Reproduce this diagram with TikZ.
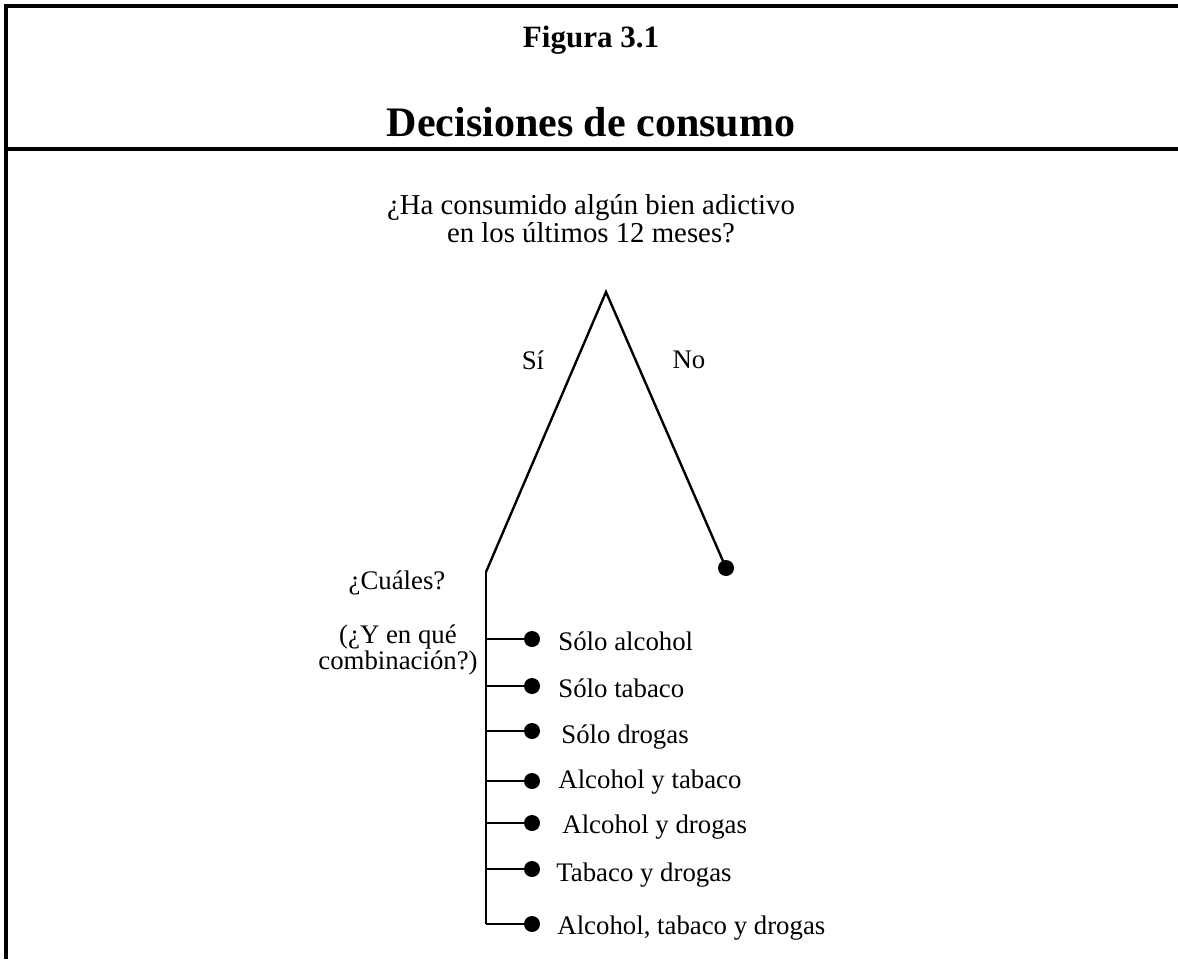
\documentclass[tikz,border=0pt]{standalone}
\usepackage{fontspec}
\setmainfont{Liberation Serif}
\usetikzlibrary{positioning}

\tikzset{
  frameline/.style={line width=2pt},
  treeline/.style={line width=1.2pt},
  leafdot/.style={circle,fill=black,inner sep=0pt,minimum size=8pt},
  leaftext/.style={anchor=west,inner sep=0pt,font=\fontsize{13.4}{16}\selectfont},
  plaintext/.style={align=center,inner sep=0pt,font=\fontsize{13.4}{12.6}\selectfont},
  asktext/.style={align=center,inner sep=0pt,font=\fontsize{14.4}{12.6}\selectfont},
  headtext/.style={inner sep=0pt,font=\fontsize{15.5}{18}\selectfont\bfseries}
}

\begin{document}
\begin{tikzpicture}[x=0.5pt,y=-0.5pt]
  \useasboundingbox (0,0) rectangle (1178,959);

  \draw[frameline] (6,959) -- (6,6) -- (1178,6);
  \draw[frameline] (6,149) -- (1178,149);

  \node at (591,40) [headtext] (figtitle) {Figura 3.1};
  \node at (591,122) [headtext,font=\fontsize{21}{24}\selectfont\bfseries] (maintitle) {Decisiones de consumo};

  \node at (591,219) [asktext] (question) {
    ¿Ha consumido algún bien adictivo\\
    en los últimos 12 meses?
  };

  \coordinate (apex) at (606,292);
  \coordinate (fork) at (486,572);
  \node at (726,568) [leafdot] (nodot) {};

  \node at (533,360) [plaintext] (si) {Sí};
  \node at (689,360) [plaintext] (no) {No};

  \node at (397,583) [plaintext] (cuales) {¿Cuáles?};
  \node at (398,650) [plaintext] (combo) {
    (¿Y en qué\\
    combinación?)
  };

  \draw[treeline] (fork) -- (apex) -- (nodot.center);

  \foreach \i/\yy/\tx/\ty/\txt in {1/639/558/641/Sólo alcohol, 2/686/558/688/Sólo tabaco,
      3/731/561/737/Sólo drogas, 4/781/558/782/Alcohol y tabaco,
      5/823/562/827/Alcohol y drogas, 6/869/556/875/Tabaco y drogas,
      7/924/557/928/{Alcohol, tabaco y drogas}} {
    \node at (532,\yy) [leafdot] (dot\i) {};
    \node at (\tx,\ty) [leaftext] (lbl\i) {\txt};
  }

  \draw[treeline] (fork) -- (fork |- dot7);
  \foreach \i in {1,...,7} {
    \draw[treeline] (fork |- dot\i) -- (dot\i.center);
  }
\end{tikzpicture}
\end{document}
